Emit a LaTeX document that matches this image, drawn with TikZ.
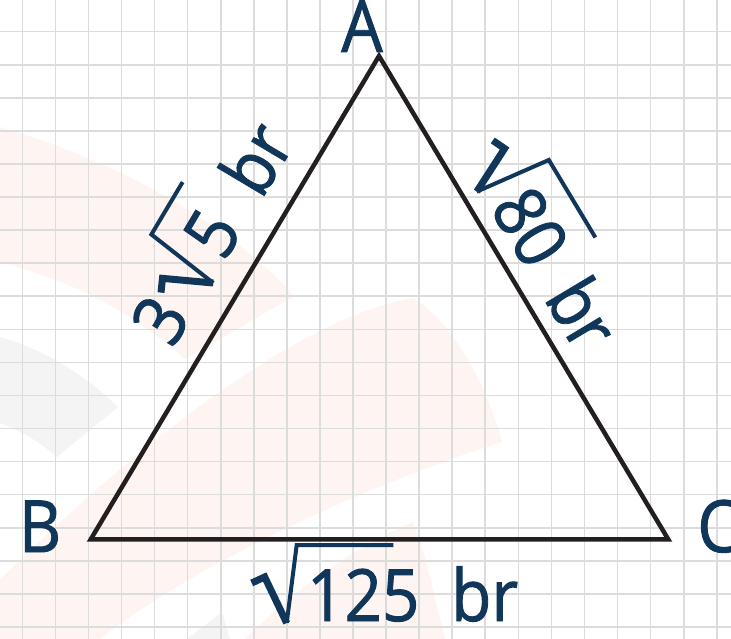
\documentclass[tikz,border=0pt]{standalone}
\usepackage{fontspec}
\setmainfont{Open Sans}
\newfontfamily\labfont{Open Sans}[FakeBold=1.3]
\definecolor{navy}{HTML}{10365A}
\definecolor{triline}{HTML}{231F20}
\definecolor{gridc}{HTML}{DCDCDC}
\definecolor{wmpink}{HTML}{FEF4F1}
\definecolor{wmgray}{HTML}{F4F4F4}
\newcommand\narrowtxt[1]{\scalebox{0.91}[1]{#1}}
\begin{document}
\begin{tikzpicture}[x=1pt,y=-1pt,
  lab/.style={text=navy, inner sep=0pt, font=\labfont\fontsize{72}{80}\selectfont},
  tri/.style={draw=triline, line width=4.5pt, line join=miter},
  gridline/.style={draw=gridc, line width=1.6pt},
  radthick/.style={draw=navy, line width=7pt, line join=miter},
  radthin/.style={draw=navy, line width=4pt, line join=miter}]
\useasboundingbox (0,0) rectangle (731,639);
\fill[white] (0,0) rectangle (731,639);
% watermark
\fill[wmpink] (0,127) .. controls (110,160) and (220,215) .. (294,296)
  -- (185,359) .. controls (130,310) and (70,280) .. (0,262) -- cycle;
\fill[wmgray] (0,337) .. controls (45,350) and (85,375) .. (118,407)
  -- (57,457) .. controls (40,442) and (20,430) .. (0,423) -- cycle;
\fill[wmpink] (0,580) .. controls (120,460) and (290,320) .. (413,298)
  .. controls (450,320) and (485,380) .. (502,442)
  .. controls (380,480) and (200,560) .. (100,639) -- (0,639) -- cycle;
\fill[wmpink] (413,522) .. controls (425,550) and (435,600) .. (445,639)
  -- (245,639) .. controls (290,595) and (340,555) .. (413,522) -- cycle;
\fill[wmgray] (187,639) -- (222,612) -- (230,639) -- cycle;
% grid
\foreach \k in {0,...,21} \draw[gridline] ({22.3+33.07*\k},0) -- ({22.3+33.07*\k},639);
\foreach \k in {0,...,18} \draw[gridline] (0,{31.7+33.07*\k}) -- (731,{31.7+33.07*\k});
% triangle
\coordinate (A) at (379,56);
\coordinate (B) at (90.7,539.4);
\coordinate (C) at (668.3,539.4);
\draw[tri] (A) -- (B) -- (C) -- cycle;
% vertex labels
\node[lab, anchor=base] (lA) at (362,52) {\narrowtxt{A}};
\node[lab, anchor=base] (lB) at (40,552) {\narrowtxt{B}};
\node[lab, anchor=base] (lC) at (718,552) {\narrowtxt{C}};
% bottom side label
\begin{scope}[shift={(251.7,621)}, y=1pt, transform shape]
  \draw[radthick] (0,38) -- (13,44) -- (35,-2);
  \draw[radthin] (35,-2) -- (45,76) -- (141.6,76);
  \node[lab, anchor=base] (n125) at (111.5,0) {\narrowtxt{125}};
  \node[lab, anchor=base] (brBC) at (233,0) {\narrowtxt{br}};
\end{scope}
% left side label
\begin{scope}[shift={(B)}, rotate=59.2, y=1pt, transform shape]
  \draw[radthick] (248,66) -- (261,72) -- (283,26);
  \draw[radthin] (283,26) -- (293,104) -- (354,104);
  \node[lab, anchor=base] (n3) at (224,27) {\narrowtxt{3}};
  \node[lab, anchor=base] (n5) at (325,27) {\narrowtxt{5}};
  \node[lab, anchor=base] (brAB) at (412,27) {\narrowtxt{br}};
\end{scope}
% right side label
\begin{scope}[shift={(A)}, rotate=-59.0, y=1pt, transform shape]
  \draw[radthick] (131,54) -- (144,60) -- (166.6,14);
  \draw[radthin] (166.6,14) -- (176.6,92) -- (267,92);
  \node[lab, anchor=base] (n80) at (224.5,16) {\narrowtxt{80}};
  \node[lab, anchor=base] (brAC) at (325.5,16) {\narrowtxt{br}};
\end{scope}
\end{tikzpicture}
\end{document}
